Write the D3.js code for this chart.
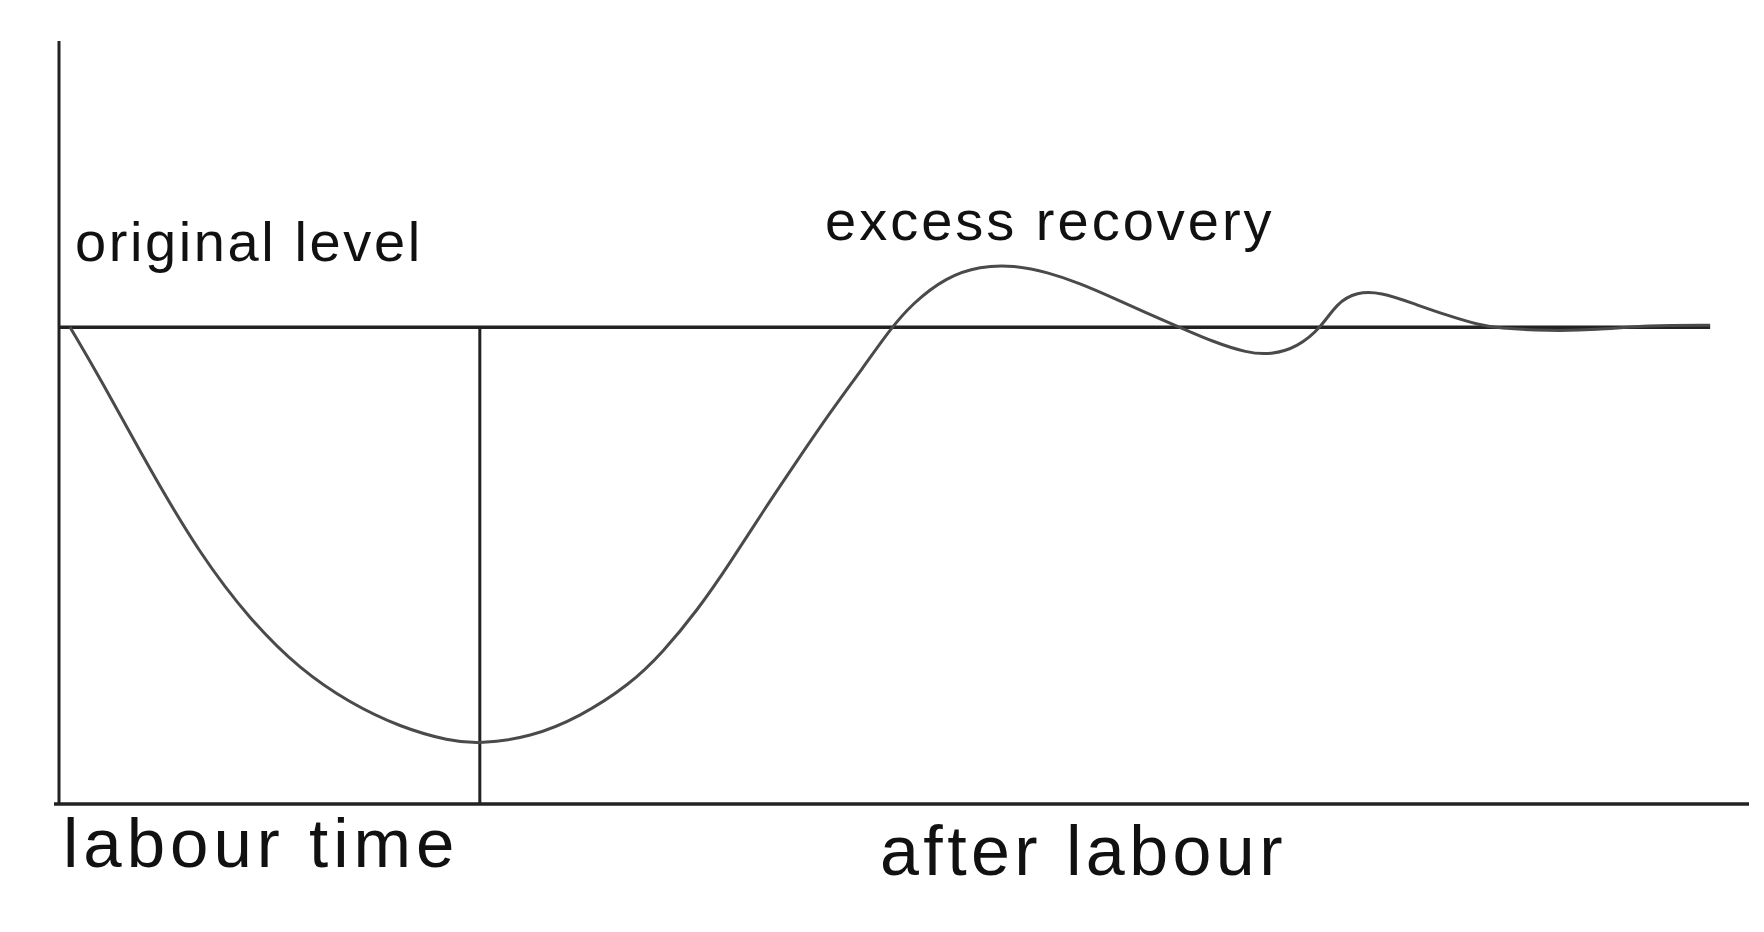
<!DOCTYPE html>
<html>
<head>
<meta charset="utf-8">
<script src="https://cdn.jsdelivr.net/npm/d3@7"></script>
<style>
  html, body { margin: 0; padding: 0; background: #fff; }
  .label { font-family: "Liberation Sans", Arial, sans-serif; fill: #111; }
</style>
</head>
<body>
<div class="container"></div>
<script>
// curve: recovery level over time, 0 = original level, -100 = x axis
const curveX = [0.65, 2.4, 5.4, 8.3, 11.3, 14.3, 17.2, 20.2, 23.1, 24.9, 27.9, 30.8,
                33.8, 35.7, 37.8, 39.7, 41.7, 43.7, 45.6, 47.6, 49.1, 50.5, 52.5,
                54.5, 56.5, 58.5, 60.4, 62.4, 64.4, 66.3, 68.3, 70.3, 71.7, 73.3,
                74.7, 75.6, 76.8, 78.2, 80.1, 82.1, 84.1, 85.1, 88.1, 91.0, 94.0, 97.7];
const curveY = [0, -10.5, -30.0, -47.4, -61.4, -71.9, -78.8, -83.9, -86.8, -87.4,
                -86.0, -81.8, -74.9, -68.3, -59.3, -49.5, -38.4, -27.9, -18.0, -8.4,
                -0.8, 5.0, 10.5, 12.8, 13.0, 11.5, 9.2, 6.1, 2.9, 0, -3.1, -5.4, -5.8,
                -4.2, 0, 5.0, 7.4, 7.3, 5.0, 2.5, 0.4, -0.2, -0.8, -0.6, 0.4, 0.4];
const labourEnd = 24.9;
const levelEnd = 97.7;
const labels = ["original level", "excess recovery", "labour time", "after labour"];

const width = 1764, height = 932;

const svg = d3.select(".container")
              .append("svg")
              .attr("width", width)
              .attr("height", height);

const x = d3.scaleLinear()
            .domain([0, 100])
            .range([59, 1749]);

const y = d3.scaleLinear()
            .domain([-100, 60])
            .range([804, 41]);

const axisColor = "#222";

// y axis
svg.append("line")
   .attr("x1", x(0)).attr("x2", x(0))
   .attr("y1", y(60)).attr("y2", y(-100))
   .attr("stroke", axisColor)
   .attr("stroke-width", 3);

// x axis
svg.append("line")
   .attr("x1", x(0) - 5).attr("x2", x(100))
   .attr("y1", y(-100)).attr("y2", y(-100))
   .attr("stroke", axisColor)
   .attr("stroke-width", 3.5);

// original level
svg.append("line")
   .attr("x1", x(0)).attr("x2", x(levelEnd))
   .attr("y1", y(0)).attr("y2", y(0))
   .attr("stroke", axisColor)
   .attr("stroke-width", 3.5);

// end of labour
svg.append("line")
   .attr("x1", x(labourEnd)).attr("x2", x(labourEnd))
   .attr("y1", y(0)).attr("y2", y(-100))
   .attr("stroke", axisColor)
   .attr("stroke-width", 3);

const line = d3.line()
               .x((d, i) => x(curveX[i]))
               .y(d => y(d))
               .curve(d3.curveBasis);

svg.append("path")
   .datum(curveY)
   .attr("d", line)
   .attr("fill", "none")
   .attr("stroke", "#4a4a4a")
   .attr("stroke-width", 3);

// labels
const labelPos = [
  {x: 75, y: 261, size: 56, spacing: 2.6},
  {x: 825, y: 240, size: 56, spacing: 3.0},
  {x: 63, y: 867, size: 69, spacing: 5.0},
  {x: 880, y: 875, size: 70, spacing: 4.4}
];

svg.selectAll("text.label")
   .data(labels)
   .enter()
   .append("text")
   .attr("class", "label")
   .attr("x", (d, i) => labelPos[i].x)
   .attr("y", (d, i) => labelPos[i].y)
   .attr("font-size", (d, i) => labelPos[i].size)
   .attr("letter-spacing", (d, i) => labelPos[i].spacing)
   .text(d => d);
</script>
</body>
</html>
